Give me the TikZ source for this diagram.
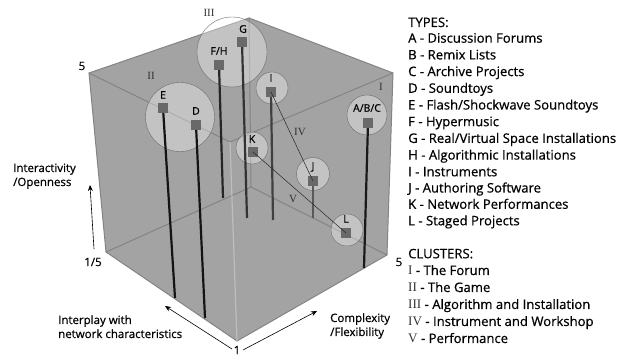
\documentclass[tikz,border=0pt]{standalone}
\usepackage{fontspec}
\setmainfont{Open Sans}[FakeBold=0.6]
\newfontfamily\romfont{Liberation Serif}
\usetikzlibrary{arrows.meta}
\definecolor{cubefill}{RGB}{163,163,163}
\definecolor{edgecol}{RGB}{132,132,132}
\definecolor{frontedge}{RGB}{190,190,190}
\definecolor{mkfill}{RGB}{105,105,105}
\definecolor{romcol}{RGB}{50,50,50}
\tikzset{
  edgeline/.style={draw=edgecol, line width=1pt},
  clu/.style={circle, draw=gray!85!black, line width=0.4pt, fill=white, fill opacity=0.35, draw opacity=1, inner sep=0pt},
  mk/.style={rectangle, fill=mkfill, minimum size=10pt, inner sep=0pt},
  pole/.style={line width=2.2pt, line cap=butt},
  lab/.style={font=\fontsize{10.5}{12}\selectfont, inner sep=1pt},
  rom/.style={font=\romfont\fontsize{11}{12}\selectfont, text=romcol, inner sep=1pt},
  axlab/.style={font=\fontsize{11.5}{13}\selectfont, anchor=base west, inner sep=0pt},
  leg/.style={font=\fontsize{13.1}{14}\selectfont, anchor=base west, inner sep=0pt},
  ax/.style={line width=0.6pt, -{Stealth[length=6pt,width=5pt]}},
  link/.style={line width=0.5pt, draw=black!85}
}
\begin{document}
\begin{tikzpicture}[x=1pt,y=-1pt]
\useasboundingbox (0,0) rectangle (633,358);
% cube vertices
\coordinate (Tb) at (249,18);
\coordinate (Tl) at (89,73);
\coordinate (Tr) at (393,73);
\coordinate (Tf) at (230,142);
\coordinate (Bb) at (251,187);
\coordinate (Bl) at (106,252);
\coordinate (Br) at (387,255);
\coordinate (Bf) at (237,341);
\fill[cubefill] (Tl) -- (Tb) -- (Tr) -- (Br) -- (Bf) -- (Bl) -- cycle;
% hidden / back edges
\draw[edgeline] (Tb) -- (Bb);
\draw[edgeline] (Bb) -- (Bl);
\draw[edgeline] (Bb) -- (Br);
% outer edges
\draw[edgeline] (Tl) -- (Tb) -- (Tr) -- (Br) -- (Bf) -- (Bl) -- cycle;
\draw[edgeline] (Tl) -- (Tf) -- (Tr);
\draw[draw=frontedge, line width=1.2pt] (Tf) -- (Bf);
% cluster circles
\node[clu, minimum size=70pt] (c3) at (232,52) {};
\node[clu, minimum size=69pt] (c2) at (180,117) {};
\node[clu, minimum size=32pt] (cI) at (272,88) {};
\node[clu, minimum size=40pt] (cABC) at (367,115) {};
\node[clu, minimum size=32pt] (cK) at (252,148) {};
\node[clu, minimum size=33pt] (cJ) at (313,174) {};
\node[clu, minimum size=32pt] (cL) at (347,230) {};
% pole bottoms
\coordinate (Eb) at (175,298);
\coordinate (Db) at (205,318);
\coordinate (FHb) at (223,198);
\coordinate (Gb) at (247,218);
\coordinate (Ib) at (273,220);
\coordinate (ABCb) at (364,268);
\coordinate (Jb) at (313,218);
% markers
\node[mk] (E) at (163,108) {};
\node[mk] (D) at (196,125) {};
\node[mk] (FH) at (219,65) {};
\node[mk] (G) at (242,42) {};
\node[mk] (I) at (271,92) {};
\node[mk] (ABC) at (368,123) {};
\node[mk] (K) at (253,152) {};
\node[mk] (J) at (313,181) {};
\node[mk] (L) at (346,233) {};
% poles
\draw[pole, draw=black!65] (Jb) -- (J.center);
\draw[pole, draw=black!75] (Ib) -- (I.center);
\draw[pole, draw=black!80] (Gb) -- (G.center);
\draw[pole, draw=black!85] (FHb) -- (FH.center);
\draw[pole, draw=black!92] (Eb) -- (E.center);
\draw[pole, draw=black!92] (Db) -- (D.center);
\draw[pole, draw=black!90] (ABCb) -- (ABC.center);
% redraw markers on top
\foreach \n in {E,D,FH,G,I,ABC,K,J,L}{\fill[mkfill] (\n.south west) rectangle (\n.north east);}
% links
\draw[link] (I.center) -- (J.center);
\draw[link] (K.center) -- (L.center);
% marker labels
\node[lab] (tE) at (163,95) {E};
\node[lab] (tD) at (196,111) {D};
\node[lab] (tFH) at (219,51) {F/H};
\node[lab] (tG) at (243,29) {G};
\node[lab] (tI) at (271,78) {I};
\node[lab] (tABC) at (367,108) {A/B/C};
\node[lab] (tK) at (252,139) {K};
\node[lab] (tJ) at (313,167) {J};
\node[lab] (tL) at (346,219) {L};
% cluster roman labels
\node[rom] (r3) at (209,13) {III};
\node[rom] (r2) at (151,76) {II};
\node[rom] (r1) at (381,87) {I};
\node[rom] (r4) at (300,132) {IV};
\node[rom] (r5) at (293,199) {V};
% axis labels
\node[lab, font=\fontsize{11.5}{13}\selectfont] (five1) at (82,66) {5};
\node[lab, font=\fontsize{11.5}{13}\selectfont] (five2) at (399,262) {5};
\node[lab, font=\fontsize{11.5}{13}\selectfont] (fifth) at (93,262) {1/5};
\node[lab, font=\fontsize{11.5}{13}\selectfont] (one) at (237,350) {1};
\coordinate (tipV) at (90,185);
\coordinate (tipL) at (165,306);
\coordinate (tipR) at (317,311);
\coordinate (stV) at (94,249);
\coordinate (stL) at (232,349);
\coordinate (stR) at (243,350);
\draw[ax] (stV) -- (tipV);
\draw[ax] (stL) -- (tipL);
\draw[ax] (stR) -- (tipR);
\node[axlab] (ax1a) at (13,172) {Interactivity};
\node[axlab] (ax1b) at (13,186) {/Openness};
\node[axlab] (ax2a) at (58,324) {Interplay with};
\node[axlab] (ax2b) at (58,338) {network characteristics};
\node[axlab] (ax3a) at (330,322) {Complexity};
\node[axlab] (ax3b) at (330,336) {/Flexibility};
% legend
\node[leg] (types) at (408,27) {TYPES:};
\node[leg] (lA) at (408,42.7) {A - Discussion Forums};
\node[leg] (lB) at (408,59.4) {B - Remix Lists};
\node[leg] (lC) at (408,76.1) {C - Archive Projects};
\node[leg] (lD) at (408,92.8) {D - Soundtoys};
\node[leg] (lE) at (408,109.5) {E - Flash/Shockwave Soundtoys};
\node[leg] (lF) at (408,126.2) {F - Hypermusic};
\node[leg] (lG) at (408,142.9) {G - Real/Virtual Space Installations};
\node[leg] (lH) at (408,159.6) {H - Algorithmic Installations};
\node[leg] (lI) at (408,176.3) {I - Instruments};
\node[leg] (lJ) at (408,192.5) {J - Authoring Software};
\node[leg] (lK) at (408,208.8) {K - Network Performances};
\node[leg] (lL) at (408,225.3) {L - Staged Projects};
\node[leg] (clus) at (408,258.3) {CLUSTERS:};
\node[leg] (c1) at (408,275) {{\romfont\color{romcol}I} - The Forum};
\node[leg] (c2l) at (408,292) {{\romfont\color{romcol}II} - The Game};
\node[leg] (c3l) at (408,309) {{\romfont\color{romcol}III} - Algorithm and Installation};
\node[leg] (c4l) at (408,326) {{\romfont\color{romcol}IV} - Instrument and Workshop};
\node[leg] (c5l) at (408,343) {{\romfont\color{romcol}V} - Performance};
\end{tikzpicture}
\end{document}
